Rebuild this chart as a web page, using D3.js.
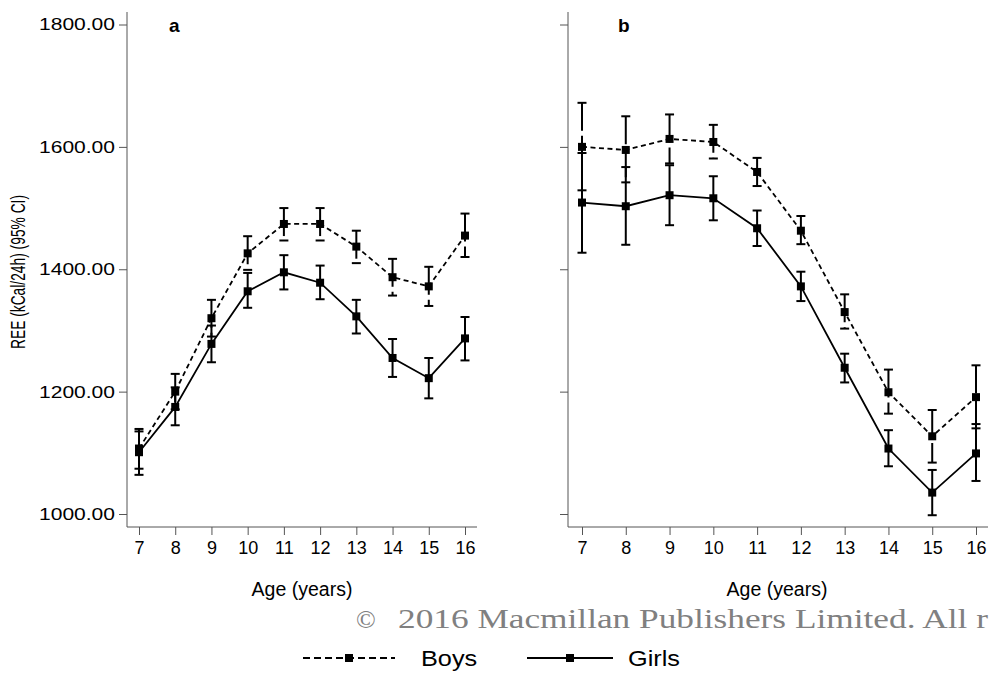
<!DOCTYPE html>
<html lang="en">
<head>
<meta charset="UTF-8">
<title>REE by age</title>
<style>
  body { margin: 0; background: #fff; }
  svg { display: block; font-family: "Liberation Sans", Arial, sans-serif; }
</style>
</head>
<body>
<svg width="991" height="675"></svg>
<script src="https://d3js.org/d3.v7.min.js"></script>
<script>
// ages on the x axis
const ages = [7, 8, 9, 10, 11, 12, 13, 14, 15, 16];
const yTicks = [1000, 1200, 1400, 1600, 1800];

// panel a
const boysA   = [1107, 1200, 1320, 1426, 1474, 1474, 1437, 1387, 1372, 1455];
const boysALo = [1074, 1171, 1290, 1399, 1447, 1447, 1410, 1357, 1340, 1420];
const boysAHi = [1139, 1229, 1350, 1454, 1500, 1500, 1463, 1417, 1404, 1491];
const girlsA   = [1101, 1175, 1278, 1364, 1395, 1378, 1323, 1255, 1222, 1287];
const girlsALo = [1064, 1145, 1248, 1337, 1367, 1351, 1295, 1224, 1189, 1251];
const girlsAHi = [1135, 1207, 1308, 1394, 1423, 1406, 1350, 1286, 1255, 1322];

// panel b
const boysB   = [1600, 1595, 1613, 1608, 1559, 1463, 1330, 1199, 1127, 1191];
const boysBLo = [1529, 1542, 1573, 1581, 1536, 1441, 1303, 1164, 1084, 1140];
const boysBHi = [1672, 1650, 1653, 1636, 1582, 1487, 1359, 1236, 1170, 1243];
const girlsB   = [1509, 1503, 1521, 1516, 1467, 1372, 1239, 1107, 1035, 1099];
const girlsBLo = [1427, 1440, 1472, 1480, 1438, 1348, 1215, 1078, 998, 1054];
const girlsBHi = [1590, 1567, 1570, 1552, 1496, 1396, 1262, 1137, 1072, 1147];

const svg = d3.select("svg");
const axisColor = "#555";
const plotBottom = 527, plotTop = 12;

let y = d3.scaleLinear().domain([1000, 1800]).range([514, 24.5]);

function toRows(mean, lo, hi) {
    return ages.map((a, i) => ({ age: a, v: mean[i], lo: lo[i], hi: hi[i] }));
}

function panel(opts) {
    let g = svg.append("g");
    let x = d3.scaleLinear().domain([7, 16]).range(opts.xr);

    // axis lines
    g.append("line").attr("x1", opts.left).attr("x2", opts.left)
        .attr("y1", plotTop).attr("y2", plotBottom).attr("stroke", axisColor);
    g.append("line").attr("x1", opts.left).attr("x2", opts.right)
        .attr("y1", plotBottom).attr("y2", plotBottom).attr("stroke", axisColor);

    // y axis
    let ya = g.append("g").attr("transform", "translate(" + opts.left + ",0)")
        .call(d3.axisLeft(y).tickValues(yTicks).tickSize(8).tickPadding(4)
            .tickFormat(opts.yLabels ? d3.format(".2f") : ""));
    ya.select(".domain").remove();
    ya.selectAll(".tick line").attr("stroke", axisColor);
    ya.selectAll("text").attr("font-size", 17).attr("fill", "#000")
        .attr("font-family", "Liberation Sans, Arial, sans-serif")
        .attr("textLength", opts.yLabels ? 76 : null)
        .attr("lengthAdjust", "spacingAndGlyphs");

    // x axis
    let xa = g.append("g").attr("transform", "translate(0," + plotBottom + ")")
        .call(d3.axisBottom(x).tickValues(ages).tickSize(8).tickPadding(6));
    xa.select(".domain").remove();
    xa.selectAll(".tick line").attr("stroke", axisColor);
    xa.selectAll("text").attr("font-size", 18).attr("fill", "#000")
        .attr("font-family", "Liberation Sans, Arial, sans-serif");

    g.append("text").attr("x", opts.labelX).attr("y", 596)
        .attr("text-anchor", "middle").attr("font-size", 19.5).text("Age (years)");

    g.append("text").attr("x", opts.tagX).attr("y", 32)
        .attr("font-size", 19).attr("font-weight", "bold").text(opts.tag);

    let line = d3.line().x(d => x(d.age)).y(d => y(d.v));
    let series = [
        { rows: toRows(opts.girls[0], opts.girls[1], opts.girls[2]), dash: null, barDash: null },
        { rows: toRows(opts.boys[0], opts.boys[1], opts.boys[2]), dash: "5,3.5", barDash: "28,5" }
    ];

    series.forEach(s => {
        g.append("path").datum(s.rows).attr("d", line)
            .attr("fill", "none").attr("stroke", "#000").attr("stroke-width", 1.8)
            .attr("stroke-dasharray", s.dash);
    });

    series.forEach(s => {
        let bars = g.append("g");
        bars.append("g").selectAll("line").data(s.rows).join("line")
            .attr("x1", d => x(d.age)).attr("x2", d => x(d.age))
            .attr("y1", d => y(d.hi)).attr("y2", d => y(d.lo))
            .attr("stroke", "#000").attr("stroke-width", 2)
            .attr("stroke-dasharray", s.barDash);
        bars.append("g").selectAll("line").data(s.rows).join("line")
            .attr("x1", d => x(d.age) - 4.5).attr("x2", d => x(d.age) + 4.5)
            .attr("y1", d => y(d.hi)).attr("y2", d => y(d.hi))
            .attr("stroke", "#000").attr("stroke-width", 2);
        bars.append("g").selectAll("line").data(s.rows).join("line")
            .attr("x1", d => x(d.age) - 4.5).attr("x2", d => x(d.age) + 4.5)
            .attr("y1", d => y(d.lo)).attr("y2", d => y(d.lo))
            .attr("stroke", "#000").attr("stroke-width", 2);
    });

    series.forEach(s => {
        g.append("g").selectAll("rect").data(s.rows).join("rect")
            .attr("x", d => x(d.age) - 4).attr("y", d => y(d.v) - 4)
            .attr("width", 8).attr("height", 8).attr("fill", "#000");
    });
}

panel({ left: 127, right: 477, xr: [139, 465], yLabels: true, labelX: 302, tag: "a", tagX: 169,
        boys: [boysA, boysALo, boysAHi], girls: [girlsA, girlsALo, girlsAHi] });
panel({ left: 568, right: 988, xr: [582, 976], yLabels: false, labelX: 777, tag: "b", tagX: 618,
        boys: [boysB, boysBLo, boysBHi], girls: [girlsB, girlsBLo, girlsBHi] });

// y axis title
svg.append("text").attr("transform", "translate(25,272) rotate(-90) scale(0.69,1)")
    .attr("text-anchor", "middle").attr("font-size", 20)
    .text("REE (kCal/24h) (95% CI)");

// copyright line (cut at the right edge in the source figure)
svg.append("text").attr("x", 356).attr("y", 628)
    .attr("font-family", "Liberation Serif, Times New Roman, serif")
    .attr("font-size", 26).attr("fill", "#808080").text("©");
svg.append("text").attr("x", 398).attr("y", 628)
    .attr("font-family", "Liberation Serif, Times New Roman, serif")
    .attr("font-size", 28).attr("fill", "#808080")
    .attr("textLength", 590).attr("lengthAdjust", "spacingAndGlyphs")
    .text("2016 Macmillan Publishers Limited. All r");

// legend
const legendItems = ["Boys", "Girls"];
const legendDash = ["7,4", null];
const legendX = [[303, 395, 421], [527, 613, 628]];
legendItems.forEach((name, i) => {
    let lx = legendX[i];
    svg.append("line").attr("x1", lx[0]).attr("x2", lx[1]).attr("y1", 658).attr("y2", 658)
        .attr("stroke", "#000").attr("stroke-width", 2).attr("stroke-dasharray", legendDash[i]);
    svg.append("rect").attr("x", (lx[0] + lx[1]) / 2 - 4).attr("y", 654)
        .attr("width", 8).attr("height", 8).attr("fill", "#000");
    svg.append("text").attr("transform", "translate(" + lx[2] + ",666) scale(1.15,1)")
        .attr("font-size", 22).text(name);
});
</script>
</body>
</html>
